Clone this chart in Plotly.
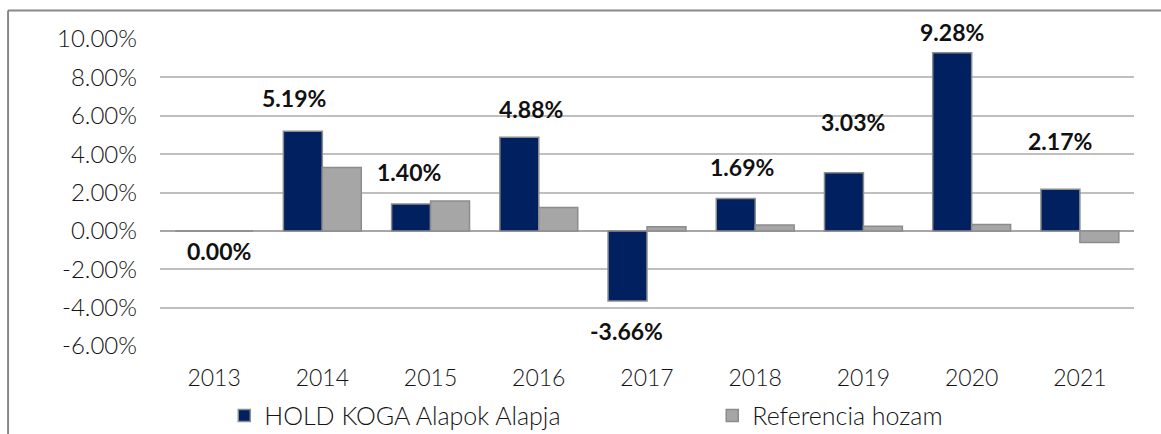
import plotly.graph_objects as go

years = ["2013", "2014", "2015", "2016", "2017", "2018", "2019", "2020", "2021"]
fund_returns = [0.00, 5.19, 1.40, 4.88, -3.66, 1.69, 3.03, 9.28, 2.17]
reference_returns = [0.00, 3.30, 1.56, 1.22, 0.22, 0.31, 0.24, 0.33, -0.61]
fund_name = "HOLD KOGA Alapok Alapja"
ref_name = "Referencia hozam"
y_ticks = [-6, -4, -2, 0, 2, 4, 6, 8, 10]

# label placement offsets (px) relative to the category centre / bar end
label_xshift = [5, -28, -22, -8, -21, -13, -10, -20, -20]
label_yshift = [-20, 33, 32, 28, -30, 31, 51, 21, 48]

NAVY = "#002060"
GREY = "#a6a6a6"
EDGE = "#8c8c8c"
FONT = "Lato"
TXT = "#141414"

fig = go.Figure()
fig.add_trace(go.Bar(x=years, y=fund_returns, name=fund_name, legend="legend",
                     marker=dict(color=NAVY, line=dict(color=EDGE, width=1.5))))
fig.add_trace(go.Bar(x=years, y=reference_returns, name=ref_name, legend="legend2",
                     marker=dict(color=GREY, line=dict(color=EDGE, width=1.5))))

for i, (v, dx, dy) in enumerate(zip(fund_returns, label_xshift, label_yshift)):
    fig.add_annotation(x=i, y=v, text=f"{v:.2f}%", showarrow=False,
                       xshift=dx, yshift=dy, xanchor="center", yanchor="middle",
                       font=dict(family=FONT, size=23, color="#111111", weight="bold"))

# outer frame (left and top edges visible)
fig.add_shape(type="line", xref="paper", yref="paper", x0=-0.156, x1=-0.156, y0=1.0925, y1=-0.5,
              line=dict(color="#888888", width=2))
fig.add_shape(type="line", xref="paper", yref="paper", x0=-0.156, x1=1.2, y0=1.0925, y1=1.0925,
              line=dict(color="#888888", width=2))

legend_font = dict(family=FONT, size=25, color=TXT, weight=300)
fig.update_layout(
    width=1161, height=434,
    margin=dict(l=160, r=27, t=38.5, b=87.5, autoexpand=False),
    paper_bgcolor="white", plot_bgcolor="white",
    barmode="group", bargap=0.28, bargroupgap=0,
    font=dict(family=FONT, size=22, color=TXT),
    showlegend=True,
    legend=dict(orientation="h", x=0.066, y=-0.152, xanchor="left", yanchor="top",
                font=legend_font, bgcolor="rgba(0,0,0,0)"),
    legend2=dict(orientation="h", x=0.567, y=-0.152, xanchor="left", yanchor="top",
                 font=legend_font, bgcolor="rgba(0,0,0,0)"),
)
fig.update_xaxes(type="category", range=[-0.5, 8.5], autorange=False,
                 showgrid=False, showline=False, ticks="",
                 ticklabelstandoff=16, tickfont=dict(family=FONT, size=23, color=TXT, weight=300))
fig.update_yaxes(range=[-6, 10], autorange=False, tickvals=y_ticks,
                 ticktext=[f"{t:.2f}%" for t in y_ticks],
                 showgrid=True, gridcolor="#bfbfbf", gridwidth=1.5,
                 zeroline=True, zerolinecolor="#a6a6a6", zerolinewidth=1.5,
                 showline=False, ticks="", ticklabelstandoff=22,
                 tickfont=dict(family=FONT, size=24, color=TXT, weight=300))

fig.write_html("out.html", config={"displayModeBar": False},
               post_script="document.body.style.margin='0';")
